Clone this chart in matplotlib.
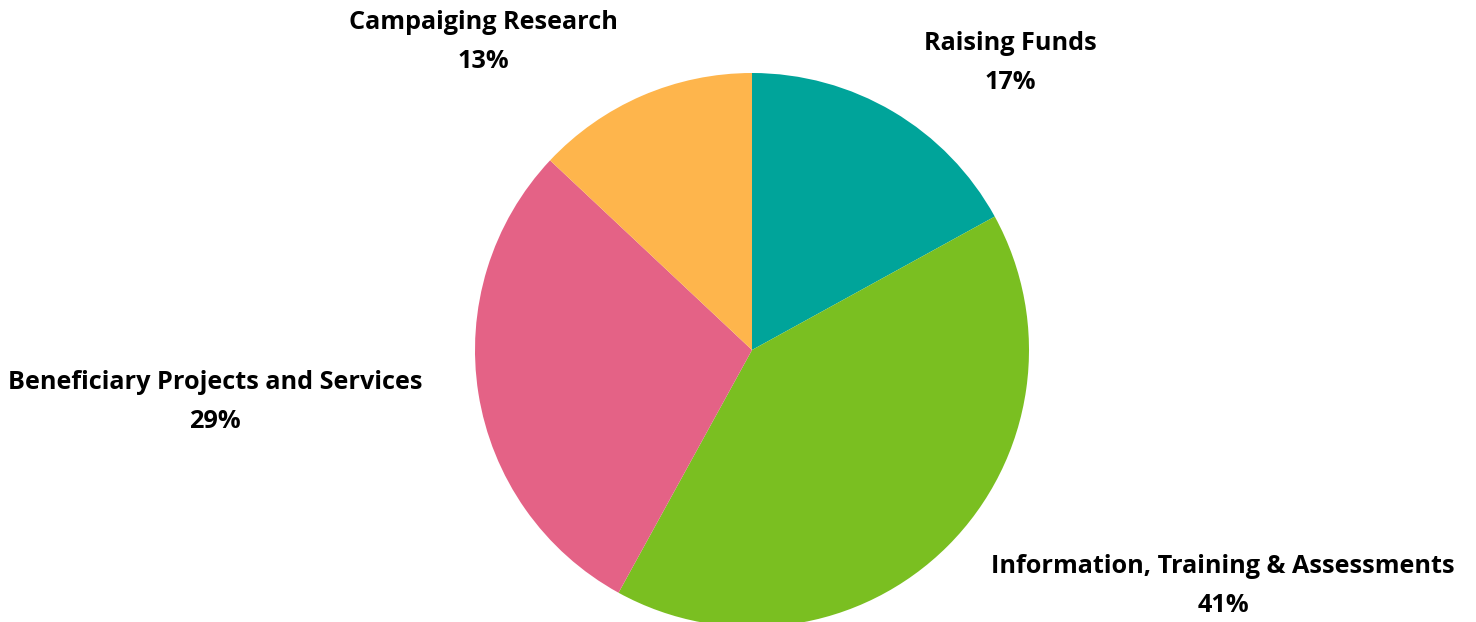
import matplotlib.pyplot as plt

categories = ["Raising Funds", "Information, Training & Assessments",
              "Beneficiary Projects and Services", "Campaiging Research"]
shares = [17, 41, 29, 13]
colors = ["#00A49A", "#7ABF21", "#E46286", "#FEB54C"]

# label anchor points (pixel coords, y measured from top)
label_pos = [(1010, 63), (1223, 586), (215, 402), (483, 42)]

fig = plt.figure(figsize=(14.76, 6.22), dpi=100)
ax = fig.add_axes([0, 0, 1, 1])

# y axis runs downwards, so counterclock in data space is clockwise on screen
cx, cy, r = 752, 350, 277
ax.pie(shares, colors=colors, startangle=-90, counterclock=True,
       center=(cx, cy), radius=r, frame=True,
       wedgeprops=dict(linewidth=0))
ax.set_xlim(0, 1476)
ax.set_ylim(622, 0)
ax.set_aspect("equal")
ax.axis("off")

for name, val, (x, y) in zip(categories, shares, label_pos):
    ax.text(x, y, f"{name}\n{val}%", ha="center", va="center",
            fontsize=18.2, fontweight="bold", family="Open Sans",
            linespacing=1.7, color="black")

fig.savefig("out.png", dpi=100)
